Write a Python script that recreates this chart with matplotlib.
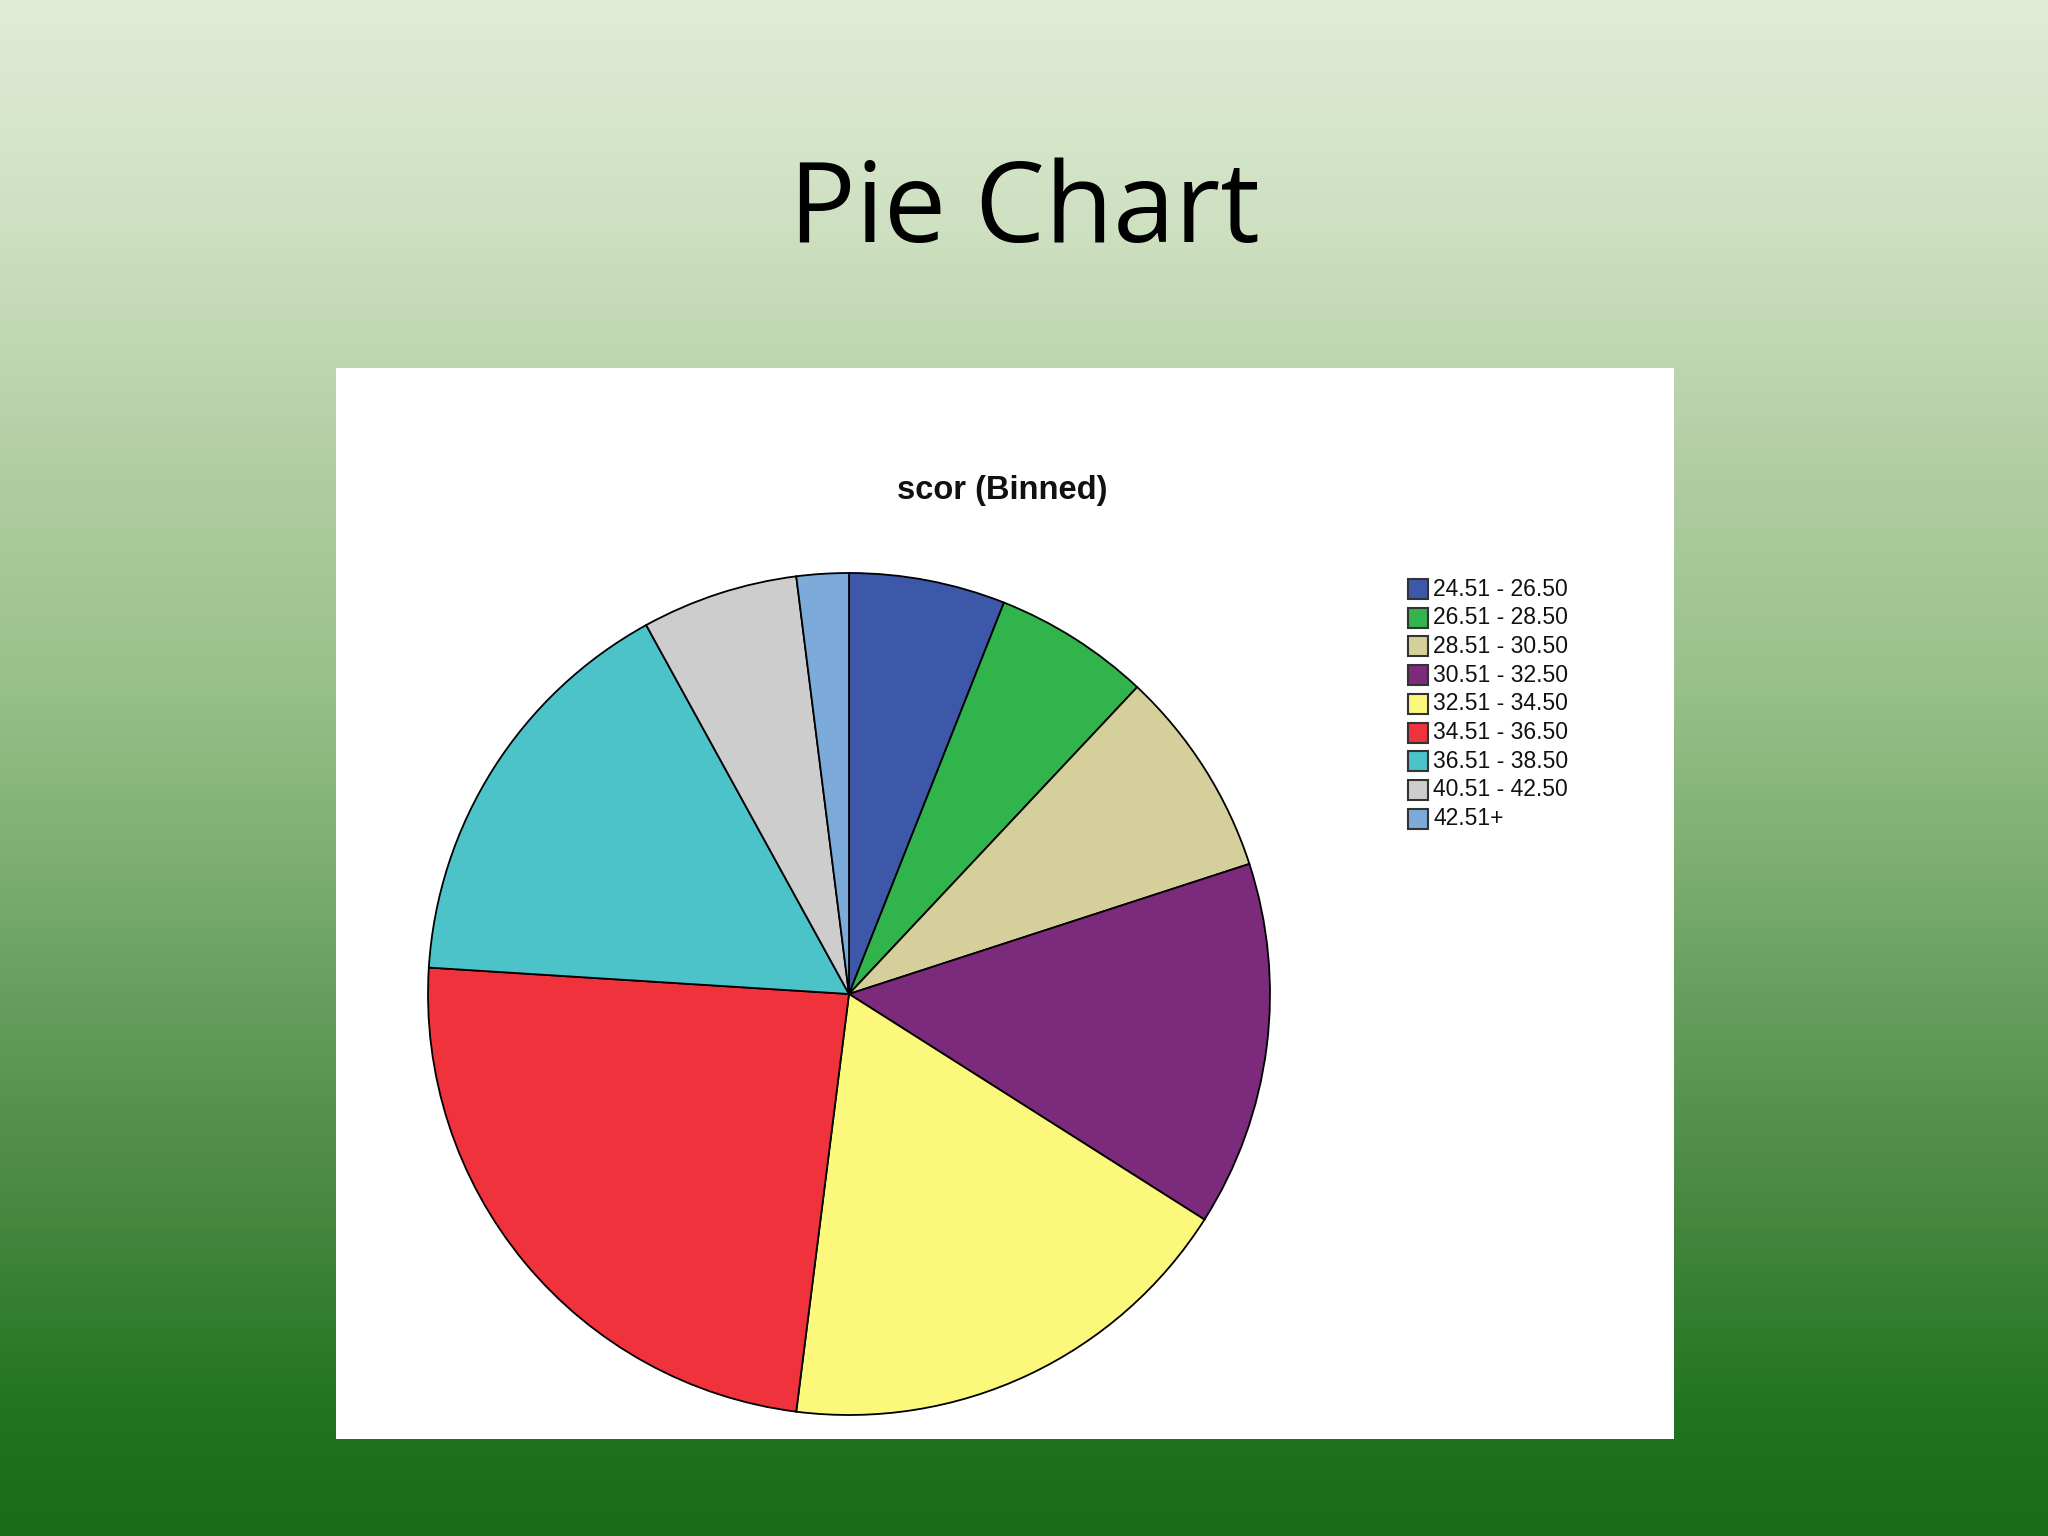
import numpy as np
import matplotlib.pyplot as plt
from matplotlib.colors import LinearSegmentedColormap
from matplotlib.patches import Rectangle

# data (counts per bin, out of 50)
labels = ['24.51 - 26.50', '26.51 - 28.50', '28.51 - 30.50', '30.51 - 32.50',
          '32.51 - 34.50', '34.51 - 36.50', '36.51 - 38.50', '40.51 - 42.50', '42.51+']
counts = [3, 3, 4, 7, 9, 12, 8, 3, 1]
colors = ['#3d57a9', '#31b44b', '#d5d09b', '#7b2a7c', '#fbf87b',
          '#ef323b', '#4bc3c9', '#cdcdcd', '#7caad9']

W, H = 2048, 1536
fig = plt.figure(figsize=(W/100, H/100), dpi=100)

# slide background gradient
bg = fig.add_axes([0, 0, 1, 1])
bg.set_zorder(-5)
grad_cmap = LinearSegmentedColormap.from_list('slide', [
    (0.00, '#e2ebd6'), (0.15, '#cde0c0'), (0.30, '#b2cea4'), (0.45, '#98c089'),
    (0.55, '#80b072'), (0.65, '#669f5d'), (0.75, '#508e49'), (0.85, '#367f31'),
    (0.92, '#22741f'), (1.00, '#1b6b18')])
bg.imshow(np.linspace(0, 1, 512).reshape(-1, 1), aspect='auto', cmap=grad_cmap,
          extent=[0, 1, 0, 1])
bg.set_axis_off()

# slide title
fig.text(0.5, 1 - 242/H, 'Pie Chart', ha='center', va='baseline',
         fontsize=80, family='Open Sans', color='black')

# white chart panel
fig.add_artist(Rectangle((336/W, 1 - 1439/H), (1674-336)/W, (1439-368)/H,
                         transform=fig.transFigure, facecolor='white',
                         edgecolor='none', zorder=-1))

fig.text(1002/W, 1 - 490/H, 'scor (Binned)', ha='center', va='center',
         fontsize=23.5, fontweight='bold', family='Liberation Sans', color='#111111')

# pie
cx, cy, r = 849, 994, 421
ax = fig.add_axes([(cx - r)/W, (H - cy - r)/H, 2*r/W, 2*r/H])
ax.set_zorder(2)
ax.pie(counts, colors=colors, startangle=90, counterclock=False,
       wedgeprops=dict(edgecolor='black', linewidth=1.3))
ax.set_xlim(-1, 1)
ax.set_ylim(-1, 1)
ax.set_axis_off()

# legend
for i, (lab, col) in enumerate(zip(labels, colors)):
    yc = 589 + i*28.7
    fig.add_artist(Rectangle((1408/W, 1 - (yc + 10)/H), 20/W, 20/H,
                             transform=fig.transFigure, facecolor=col,
                             edgecolor='#333333', linewidth=1.5))
    fig.text(1433/W, 1 - yc/H, lab, ha='left', va='center', fontsize=16.5,
             family='Liberation Sans', color='#111111')

plt.savefig('out.png', dpi=100)
